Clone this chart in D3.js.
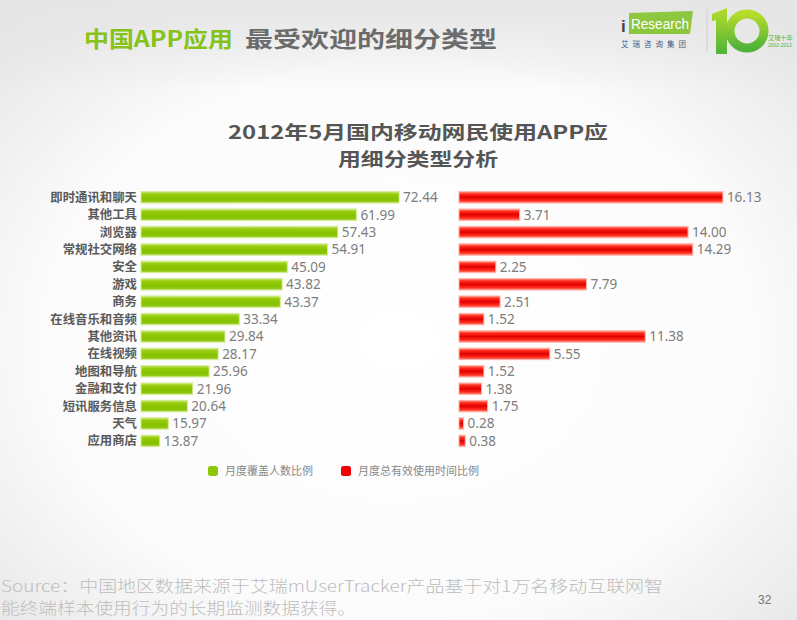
<!DOCTYPE html>
<html><head><meta charset="utf-8">
<script src="https://cdn.jsdelivr.net/npm/d3@7"></script>
<style>body{margin:0;background:#fff} svg{display:block}</style>
</head><body>
<svg id="c" width="797" height="620"></svg>
<script>
const categories = ["即时通讯和聊天","其他工具","浏览器","常规社交网络","安全","游戏","商务","在线音乐和音频","其他资讯","在线视频","地图和导航","金融和支付","短讯服务信息","天气","应用商店"];
const coverage = [72.44,61.99,57.43,54.91,45.09,43.82,43.37,33.34,29.84,28.17,25.96,21.96,20.64,15.97,13.87];
const usageTime = [16.13,3.71,14.00,14.29,2.25,7.79,2.51,1.52,11.38,5.55,1.52,1.38,1.75,0.28,0.38];
const seriesNames = ["月度覆盖人数比例","月度总有效使用时间比例"];
const titleLines = ["2012年5月国内移动网民使用APP应","用细分类型分析"];
const headerGreen = "中国APP应用";
const headerGray = "最受欢迎的细分类型";
const sourceLines = ["Source：中国地区数据来源于艾瑞mUserTracker产品基于对1万名移动互联网智","能终端样本使用行为的长期监测数据获得。"];
const pageNumber = "32";

const svg = d3.select("#c");
const defs = svg.append("defs");
const CJK = "'Noto Sans CJK SC','Noto Sans',sans-serif";

// background
const bg = defs.append("radialGradient").attr("id","bg").attr("cx","50%").attr("cy","55%").attr("r","75%");
bg.append("stop").attr("offset","0%").attr("stop-color","#ffffff");
bg.append("stop").attr("offset","60%").attr("stop-color","#fbfbfb");
bg.append("stop").attr("offset","100%").attr("stop-color","#e2e2e2");
svg.append("rect").attr("width",797).attr("height",620).attr("fill","url(#bg)");
const topG = defs.append("linearGradient").attr("id","topg").attr("x1",0).attr("y1",0).attr("x2",0).attr("y2",1);
topG.append("stop").attr("offset","0%").attr("stop-color","#e6e6e6");
topG.append("stop").attr("offset","100%").attr("stop-color","#e6e6e6").attr("stop-opacity",0);
svg.append("rect").attr("width",797).attr("height",90).attr("fill","url(#topg)");

function grad(id, stops){
  const g = defs.append("linearGradient").attr("id",id).attr("x1",0).attr("y1",0).attr("x2",0).attr("y2",1);
  stops.forEach(s=>g.append("stop").attr("offset",s[0]).attr("stop-color",s[1]));
}
grad("gg",[["0%","#cde97c"],["22%","#97cd0e"],["60%","#86c100"],["85%","#8cc60c"],["100%","#bfe26a"]]);
grad("rg",[["0%","#ff9a8e"],["22%","#ff2a1a"],["50%","#e00000"],["78%","#ff2a1a"],["100%","#ff8c80"]]);
grad("lg10",[["0%","#b6dc2a"],["100%","#4fb339"]]);

// header
svg.append("text").attr("x",84).attr("y",47).attr("font-family",CJK).attr("font-weight",700)
  .attr("font-size",22).attr("fill","#86c21a").attr("textLength",149).attr("lengthAdjust","spacingAndGlyphs").text(headerGreen);
svg.append("text").attr("x",245).attr("y",47).attr("font-family",CJK).attr("font-weight",700)
  .attr("font-size",22).attr("fill","#6b6b6b").attr("textLength",252).attr("lengthAdjust","spacingAndGlyphs").text(headerGray);

// logo
const logo = svg.append("g");
logo.append("text").attr("x",621).attr("y",32).attr("font-family","'Liberation Sans',sans-serif").attr("font-weight",700)
  .attr("font-size",17).attr("fill","#444").text("i");
logo.append("path").attr("d","M629,13 L693,11 L690,34 L629,34 Z").attr("fill","#8dc63f");
logo.append("text").attr("x",631).attr("y",29).attr("font-family","'Liberation Sans',sans-serif")
  .attr("font-size",14).attr("fill","#fff").attr("textLength",58).attr("lengthAdjust","spacingAndGlyphs").text("Research");
logo.append("text").attr("x",621).attr("y",47).attr("font-family",CJK).attr("font-size",7.5)
  .attr("fill","#3a5f8a").attr("letter-spacing",4).text("艾瑞咨询集团");
logo.append("line").attr("x1",707).attr("x2",707).attr("y1",9).attr("y2",52).attr("stroke","#cfcfcf").attr("stroke-width",1);
logo.append("path").attr("d","M712,14 L727,8 L727,54 L716,54 L716,20 L712,21 Z").attr("fill","url(#lg10)");
logo.append("circle").attr("cx",747).attr("cy",31).attr("r",17).attr("fill","none").attr("stroke","url(#lg10)").attr("stroke-width",9);
logo.append("text").attr("x",768).attr("y",40).attr("font-family",CJK).attr("font-size",6.2).attr("fill","#5ab52e").text("艾瑞十年");
logo.append("text").attr("x",768).attr("y",47).attr("font-family","'Liberation Sans',sans-serif").attr("font-size",5).attr("fill","#5ab52e").text("2002-2012");

// title
const titleW = [380, 160];
svg.append("g").selectAll("text").data(titleLines).join("text")
  .attr("x",(d,i)=>418-titleW[i]/2).attr("y",(d,i)=>139+i*27)
  .attr("textLength",(d,i)=>titleW[i]).attr("lengthAdjust","spacingAndGlyphs")
  .attr("font-family",CJK).attr("font-weight",700).attr("font-size",18.5).attr("fill","#555")
  .text(d=>d);

// scales
const y = d3.scaleBand().domain(categories).range([188.6, 449.6]).paddingInner(0.34).paddingOuter(0.17);
const xL = d3.scaleLinear().domain([9.3, 80]).range([141, 430]);
const xR = d3.scaleLinear().domain([0, 18]).range([459, 753.5]);
const bh = y.bandwidth();

// left bars
const left = svg.append("g");
left.selectAll("rect").data(categories).join("rect")
  .attr("x",xL(9.3)).attr("y",d=>y(d)).attr("height",bh)
  .attr("width",(d,i)=>xL(coverage[i])-xL(9.3))
  .attr("fill","url(#gg)").attr("stroke","#d3ec98").attr("stroke-width",1);
left.selectAll("text.v").data(categories).join("text").attr("class","v")
  .attr("x",(d,i)=>xL(coverage[i])+4).attr("y",d=>y(d)+bh/2).attr("dy","0.36em")
  .attr("font-family","'Noto Sans',sans-serif").attr("font-size",13.5).attr("fill","#7d7d7d")
  .text((d,i)=>d3.format(".2f")(coverage[i]));
left.selectAll("text.c").data(categories).join("text").attr("class","c")
  .attr("x",137).attr("y",d=>y(d)+bh/2).attr("dy","0.36em").attr("text-anchor","end")
  .attr("font-family",CJK).attr("font-weight",700).attr("font-size",12.4).attr("fill","#5a5a5a")
  .text(d=>d);

// right bars
const right = svg.append("g");
right.selectAll("rect").data(categories).join("rect")
  .attr("x",xR(0)).attr("y",d=>y(d)).attr("height",bh)
  .attr("width",(d,i)=>xR(usageTime[i])-xR(0))
  .attr("fill","url(#rg)").attr("stroke","#ffb3aa").attr("stroke-width",1);
right.selectAll("text").data(categories).join("text")
  .attr("x",(d,i)=>xR(usageTime[i])+4).attr("y",d=>y(d)+bh/2).attr("dy","0.36em")
  .attr("font-family","'Noto Sans',sans-serif").attr("font-size",13.5).attr("fill","#7d7d7d")
  .text((d,i)=>d3.format(".2f")(usageTime[i]));

// legend
const legend = svg.append("g");
const legX = [208, 341], legColors = ["#8cc70a","#f00000"];
seriesNames.forEach((s,i)=>{
  legend.append("rect").attr("x",legX[i]).attr("y",466).attr("width",10).attr("height",10).attr("rx",2.5)
    .attr("fill",legColors[i]);
  legend.append("text").attr("x",legX[i]+17).attr("y",475).attr("font-family",CJK).attr("font-size",11)
    .attr("fill","#888").text(s);
});

// footer
const srcW = [662, 355];
svg.append("g").selectAll("text").data(sourceLines).join("text")
  .attr("x",1).attr("y",(d,i)=>592+i*22).attr("font-family",CJK).attr("font-weight",300)
  .attr("textLength",(d,i)=>srcW[i]).attr("lengthAdjust","spacingAndGlyphs")
  .attr("font-size",15.5).attr("fill","#bdbdbd").text(d=>d);
svg.append("text").attr("x",758).attr("y",604).attr("font-family","'Liberation Sans',sans-serif")
  .attr("font-size",12).attr("fill","#777").text(pageNumber);
</script>
</body></html>
